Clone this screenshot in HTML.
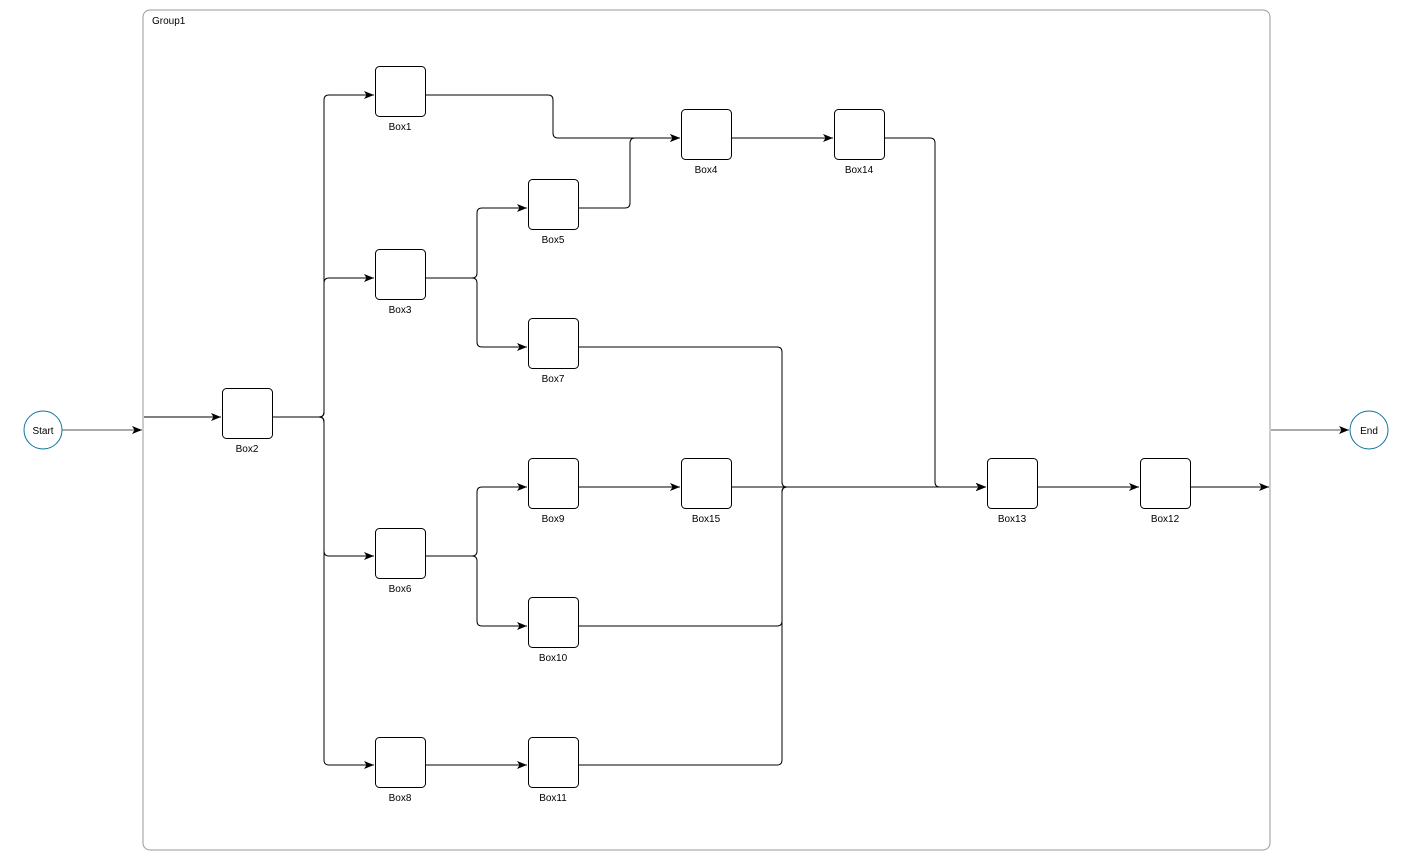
<!DOCTYPE html>
<html><head><meta charset="utf-8"><style>
html,body{margin:0;padding:0;background:#fff;}
svg{display:block;font-family:"Liberation Sans",Arial,sans-serif;}
</style></head><body>
<svg width="1414" height="867" viewBox="0 0 1414 867" xmlns="http://www.w3.org/2000/svg">
<defs><marker id="a" markerWidth="12" markerHeight="12" refX="11" refY="6" orient="auto" markerUnits="userSpaceOnUse"><path d="M1,2 L11,6 L1,10 L3.5,6 Z" fill="#000"/></marker></defs>
<rect x="143" y="10" width="1127" height="840" rx="7" fill="none" stroke="#999" stroke-width="1"/>
<text x="152" y="24" font-size="10">Group1</text>
<circle cx="43" cy="430" r="19" fill="#fff" stroke="#10739e" stroke-width="1"/>
<text x="43" y="434" font-size="10" text-anchor="middle">Start</text>
<circle cx="1369" cy="430" r="19" fill="#fff" stroke="#10739e" stroke-width="1"/>
<text x="1369" y="434" font-size="10" text-anchor="middle">End</text>
<g fill="none" stroke="#000" stroke-width="1" marker-end="url(#a)">
<path d="M62,430 H142" stroke="#555"/>
<path d="M1271,430 H1349" stroke="#555"/>
<path d="M144,417 H221"/>
<path d="M1190,487 H1269"/>
<path d="M273,417 H319 Q324,417 324,412 V100 Q324,95 329,95 H374"/>
<path d="M273,417 H319 Q324,417 324,412 V283 Q324,278 329,278 H374"/>
<path d="M273,417 H319 Q324,417 324,422 V551 Q324,556 329,556 H374"/>
<path d="M273,417 H319 Q324,417 324,422 V760 Q324,765 329,765 H374"/>
<path d="M425,95 H548 Q553,95 553,100 V133 Q553,138 558,138 H680"/>
<path d="M578,208 H625 Q630,208 630,203 V143 Q630,138 635,138 H680"/>
<path d="M425,278 H472 Q477,278 477,273 V213 Q477,208 482,208 H527"/>
<path d="M425,278 H472 Q477,278 477,283 V342 Q477,347 482,347 H527"/>
<path d="M425,556 H472 Q477,556 477,551 V492 Q477,487 482,487 H527"/>
<path d="M425,556 H472 Q477,556 477,561 V621 Q477,626 482,626 H527"/>
<path d="M578,347 H777 Q782,347 782,352 V482 Q782,487 787,487 H986"/>
<path d="M578,626 H777 Q782,626 782,621 V492 Q782,487 787,487 H986"/>
<path d="M578,765 H777 Q782,765 782,760 V492 Q782,487 787,487 H986"/>
<path d="M731,487 H986"/>
<path d="M884,138 H930 Q935,138 935,143 V482 Q935,487 940,487 H986"/>
<path d="M425,765 H527"/>
<path d="M578,487 H680"/>
<path d="M731,138 H833"/>
<path d="M1037,487 H1139"/>
</g>
<g fill="#fff" stroke="#000" stroke-width="1">
<rect x="375.5" y="66.5" width="50" height="50" rx="4"/>
<rect x="375.5" y="249.5" width="50" height="50" rx="4"/>
<rect x="528.5" y="179.5" width="50" height="50" rx="4"/>
<rect x="528.5" y="318.5" width="50" height="50" rx="4"/>
<rect x="681.5" y="109.5" width="50" height="50" rx="4"/>
<rect x="834.5" y="109.5" width="50" height="50" rx="4"/>
<rect x="222.5" y="388.5" width="50" height="50" rx="4"/>
<rect x="528.5" y="458.5" width="50" height="50" rx="4"/>
<rect x="681.5" y="458.5" width="50" height="50" rx="4"/>
<rect x="987.5" y="458.5" width="50" height="50" rx="4"/>
<rect x="1140.5" y="458.5" width="50" height="50" rx="4"/>
<rect x="375.5" y="528.5" width="50" height="50" rx="4"/>
<rect x="528.5" y="597.5" width="50" height="50" rx="4"/>
<rect x="375.5" y="737.5" width="50" height="50" rx="4"/>
<rect x="528.5" y="737.5" width="50" height="50" rx="4"/>
</g>
<g font-size="10" text-anchor="middle">
<text x="400" y="130">Box1</text>
<text x="400" y="313">Box3</text>
<text x="553" y="243">Box5</text>
<text x="553" y="382">Box7</text>
<text x="706" y="173">Box4</text>
<text x="859" y="173">Box14</text>
<text x="247" y="452">Box2</text>
<text x="553" y="522">Box9</text>
<text x="706" y="522">Box15</text>
<text x="1012" y="522">Box13</text>
<text x="1165" y="522">Box12</text>
<text x="400" y="592">Box6</text>
<text x="553" y="661">Box10</text>
<text x="400" y="801">Box8</text>
<text x="553" y="801">Box11</text>
</g>
</svg>
</body></html>
